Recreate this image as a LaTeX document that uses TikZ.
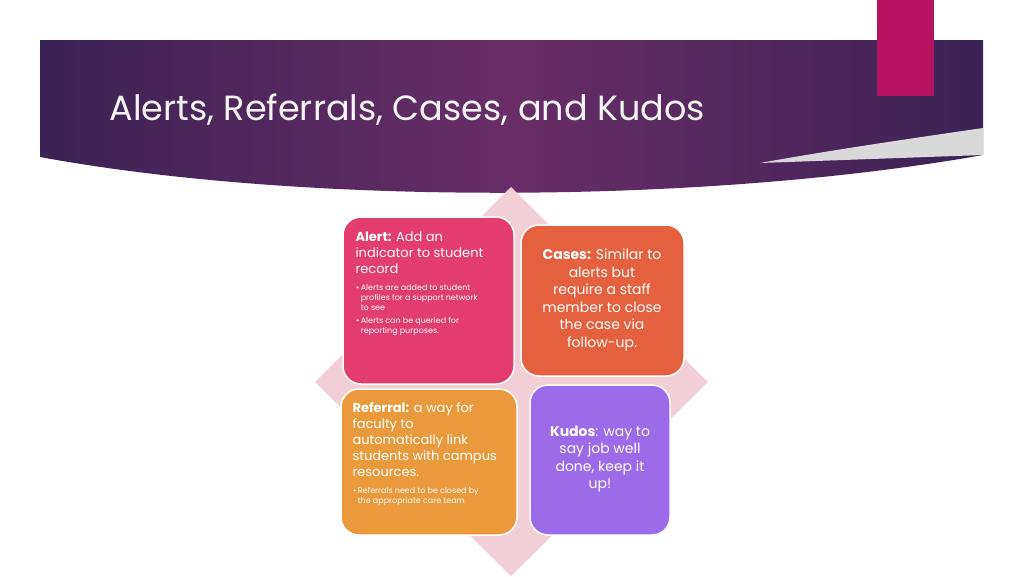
\documentclass[tikz,border=0pt]{standalone}
\usepackage{fontspec}
\setmainfont{Poppins}
\usetikzlibrary{positioning}
\definecolor{bandpurple}{HTML}{3A2356}
\definecolor{bandmid}{HTML}{6A2C68}
\definecolor{accentpink}{HTML}{B5135F}
\definecolor{diamondpink}{HTML}{F2CED6}
\definecolor{alertred}{HTML}{E23D6E}
\definecolor{caseorange}{HTML}{E5603E}
\definecolor{referralorange}{HTML}{EA9A3A}
\definecolor{kudospurple}{HTML}{9B6BEA}
\newcommand{\bul}[1]{\textbullet\,\begin{tabular}[t]{@{}l@{}}#1\end{tabular}\\[2pt]}
\begin{document}
\begin{tikzpicture}[x=1pt,y=-1pt]
    \tikzset{
        card/.style={rounded corners=18pt,draw=white,line width=1.5pt,text=white,inner sep=0pt},
        cardtext/.style={text=white,align=left,anchor=north west,font=\fontsize{13}{16}\selectfont},
        centertext/.style={text=white,align=center,font=\fontsize{14}{17.5}\selectfont},
        bullettext/.style={text=white,align=left,anchor=north west,inner sep=0pt,font=\fontsize{8}{10}\selectfont}
    }
    \useasboundingbox (0,0) rectangle (1024,576);
    \fill[white] (0,0) rectangle (1024,576);
    % header band
    \shade[left color=bandpurple,right color=bandpurple,middle color=bandmid]
        (40,40) -- (983,40) -- (983,155) .. controls (700,205) and (300,205) .. (40,157) -- cycle;
    \fill[gray!30] (983,128) .. controls (900,140) and (820,152) .. (760,163) -- (983,155) -- cycle;
    \fill[accentpink] (877,0) rectangle (934,96);
    \node[anchor=west,text=white!92!gray,font=\fontsize{35}{40}\selectfont] (title) at (106,110) {Alerts, Referrals, Cases, and Kudos};
    % diamond
    \fill[diamondpink] (511,187) -- (708,382) -- (511,576) -- (315,382) -- cycle;
    % cards
    \draw[card,fill=alertred] (343,217) rectangle (514,384);
    \draw[card,fill=caseorange] (521,225) rectangle (684,376);
    \draw[card,fill=referralorange] (341,389) rectangle (517,535);
    \draw[card,fill=kudospurple] (530,385) rectangle (670,535);
    \node[cardtext] (alert) at (352,228) {\textbf{Alert:} Add an\\indicator to student\\record};
    \node[bullettext,below=6pt of alert.south west,anchor=north west,xshift=4pt] (alertpts)
        {\bul{Alerts are added to student\\profiles for a support network\\to see}\bul{Alerts can be queried for\\reporting purposes.}};
    \node[centertext] (cases) at (602,300) {\textbf{Cases:} Similar to\\alerts but\\require a staff\\member to close\\the case via\\follow-up.};
    \node[cardtext] (referral) at (349,399) {\textbf{Referral:} a way for\\faculty to\\automatically link\\students with campus\\resources.};
    \node[bullettext,below=6pt of referral.south west,anchor=north west,xshift=4pt] (referralpts)
        {\bul{Referrals need to be closed by\\the appropriate care team}};
    \node[centertext] (kudos) at (600,459) {\textbf{Kudos}: way to\\say job well\\done, keep it\\up!};
\end{tikzpicture}
\end{document}
